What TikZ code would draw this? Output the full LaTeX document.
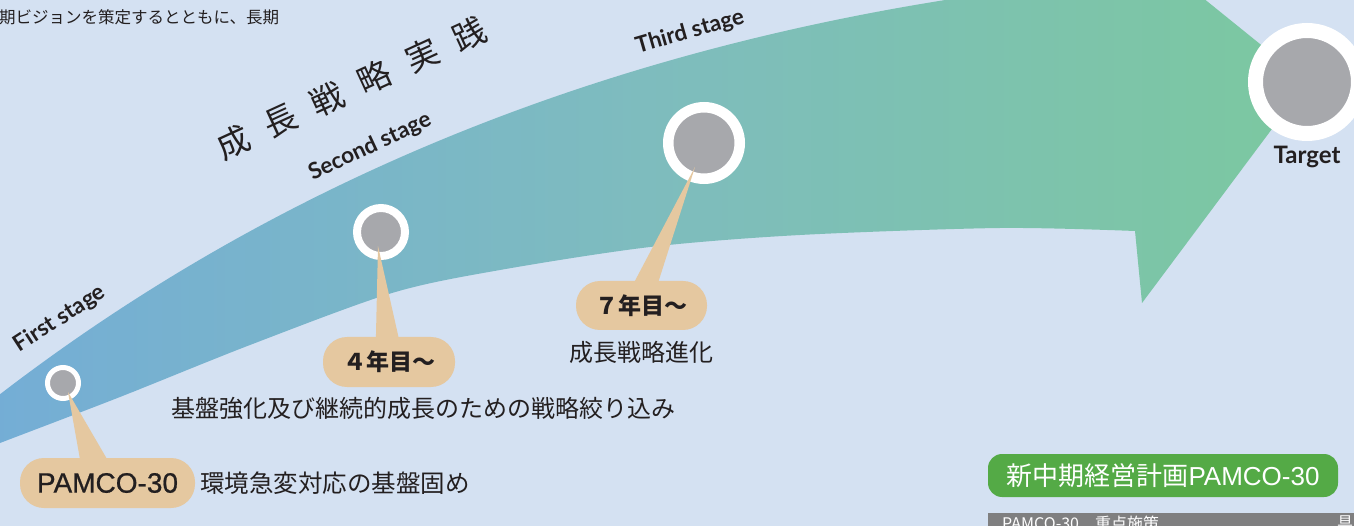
\documentclass[tikz,border=0pt]{standalone}
\usepackage{fontspec}
\setmainfont{Noto Sans CJK JP}
\newfontfamily\latfont{Lato}
\newfontfamily\arialfont{Liberation Sans}
\newfontfamily\arialmed[FakeBold=0.7]{Liberation Sans}
\usetikzlibrary{calc}
\definecolor{bg}{RGB}{212,225,242}
\definecolor{arrL}{RGB}{116,173,214}
\definecolor{arrM}{RGB}{126,188,190}
\definecolor{arrR}{RGB}{124,200,160}
\definecolor{tanc}{RGB}{229,200,160}
\definecolor{dotc}{RGB}{167,168,172}
\definecolor{ink}{RGB}{35,31,32}
\definecolor{badgec}{RGB}{84,170,70}
\definecolor{stripc}{RGB}{127,127,128}
\tikzset{
  stagedot/.style={circle, fill=dotc, draw=white, inner sep=0pt},
  pill/.style={fill=tanc, inner sep=0pt, rounded corners=24pt, text=ink},
  jptext/.style={inner sep=0pt, text=ink, font=\fontsize{24}{28}\selectfont},
  stagelabel/.style={inner sep=0pt, text=ink, font=\latfont\bfseries\fontsize{22.5}{26}\selectfont},
  pointer/.style={fill=tanc},
}
\begin{document}
\begin{tikzpicture}[x=1pt,y=-1pt]
\useasboundingbox (0,0) rectangle (1354,526);
\fill[bg] (0,0) rectangle (1354,526);
\begin{scope}
\clip (0,0) rectangle (1354,526);
% big arrow
\shade[left color=arrL, right color=arrR, middle color=arrM]
  (-10,402) .. controls (320,145) and (700,20) .. (1100,-20)
  -- (1156,-40) -- (1307,82) -- (1142,303) -- (1135,231)
  -- plot[smooth] coordinates {(1135,231) (1000,228) (800,235) (650,247) (500,270) (392,293) (250,345) (120,397) (0,443) (-10,447)}
  -- cycle;

% stage dots
\node[stagedot, minimum size=31pt, line width=5pt] (c1) at (63,383) {};
\node[stagedot, minimum size=48pt, line width=8pt] (c2) at (381,232) {};
\node[stagedot, minimum size=71.5pt, line width=10.5pt] (c3) at (704,143) {};
\node[stagedot, minimum size=103pt, line width=15pt] (c4) at (1307,82) {};

% pills (shapes)
\node[pill, minimum width=175pt, minimum height=50pt] (p1) at (107.5,483) {};
\node[pill, minimum width=132pt, minimum height=50pt] (p2) at (389,362) {};
\node[pill, minimum width=131pt, minimum height=49pt] (p3) at (641.5,305.5) {};

% pointers
\fill[pointer] ($(c1.center)+(5,9)$) -- ($(p1.north west)+(61,6)$) -- ($(p1.north west)+(90,6)$) -- cycle;
\fill[pointer] ($(c2.center)+(-3,14)$) -- ($(p2.north west)+(53,6)$) -- ($(p2.north west)+(77,6)$) -- cycle;
\fill[pointer] ($(c3.center)+(-9,24)$) -- ($(p3.north west)+(56,6)$) -- ($(p3.north west)+(81,6)$) -- cycle;

% pill texts
\node[inner sep=0pt, text=ink, font=\arialmed\fontsize{28}{30}\selectfont] (p1t) at (p1) {PAMCO-30};
\node[inner sep=0pt, text=ink, font=\bfseries\fontsize{23}{28}\selectfont] (p2t) at (p2) {４年目〜};
\node[inner sep=0pt, text=ink, font=\bfseries\fontsize{23}{28}\selectfont] (p3t) at (p3) {７年目〜};

% descriptive texts
\node[jptext, anchor=west, font=\fontsize{24.5}{28}\selectfont] (t1) at (200,483) {環境急変対応の基盤固め};
\node[jptext] (t2) at (423.5,408) {基盤強化及び継続的成長のための戦略絞り込み};
\node[jptext] (t3) at (641.5,352) {成長戦略進化};
\node[inner sep=0pt, text=ink, anchor=west, font=\fontsize{16.5}{20}\selectfont] (top) at (-1,17) {期ビジョンを策定するとともに、長期};

% rotated heading
\node[inner sep=0pt, text=ink, rotate=24.6, font=\fontsize{33}{36}\selectfont] (head) at (351,88)
  {成\hspace{19pt}長\hspace{19pt}戦\hspace{19pt}略\hspace{19pt}実\hspace{19pt}践};

% stage labels
\node[stagelabel, rotate=33] (s1) at (60,319) {First stage};
\node[stagelabel, rotate=25] (s2) at (370,147) {Second stage};
\node[stagelabel, rotate=16] (s3) at (690,32) {Third stage};
\node[stagelabel, font=\latfont\bfseries\fontsize{24}{26}\selectfont] (s4) at (1307,157) {Target};

% badge
\node[fill=badgec, text=white, rounded corners=14pt, minimum width=350pt, minimum height=43pt, inner sep=0pt, font=\fontsize{26}{30}\selectfont] (badge) at (1163,475.5) {新中期経営計画{\arialfont PAMCO-30}};

% bottom strip
\fill[stripc] (988,513) rectangle (1354,530);
\node[inner sep=0pt, text=white, anchor=north west, font=\fontsize{16}{20}\selectfont] (strip) at (1002,516) {PAMCO-30　重点施策};
\node[inner sep=0pt, text=white, anchor=north west, font=\fontsize{16}{20}\selectfont] (strip2) at (1337,516) {具};
\end{scope}
\end{tikzpicture}
\end{document}
